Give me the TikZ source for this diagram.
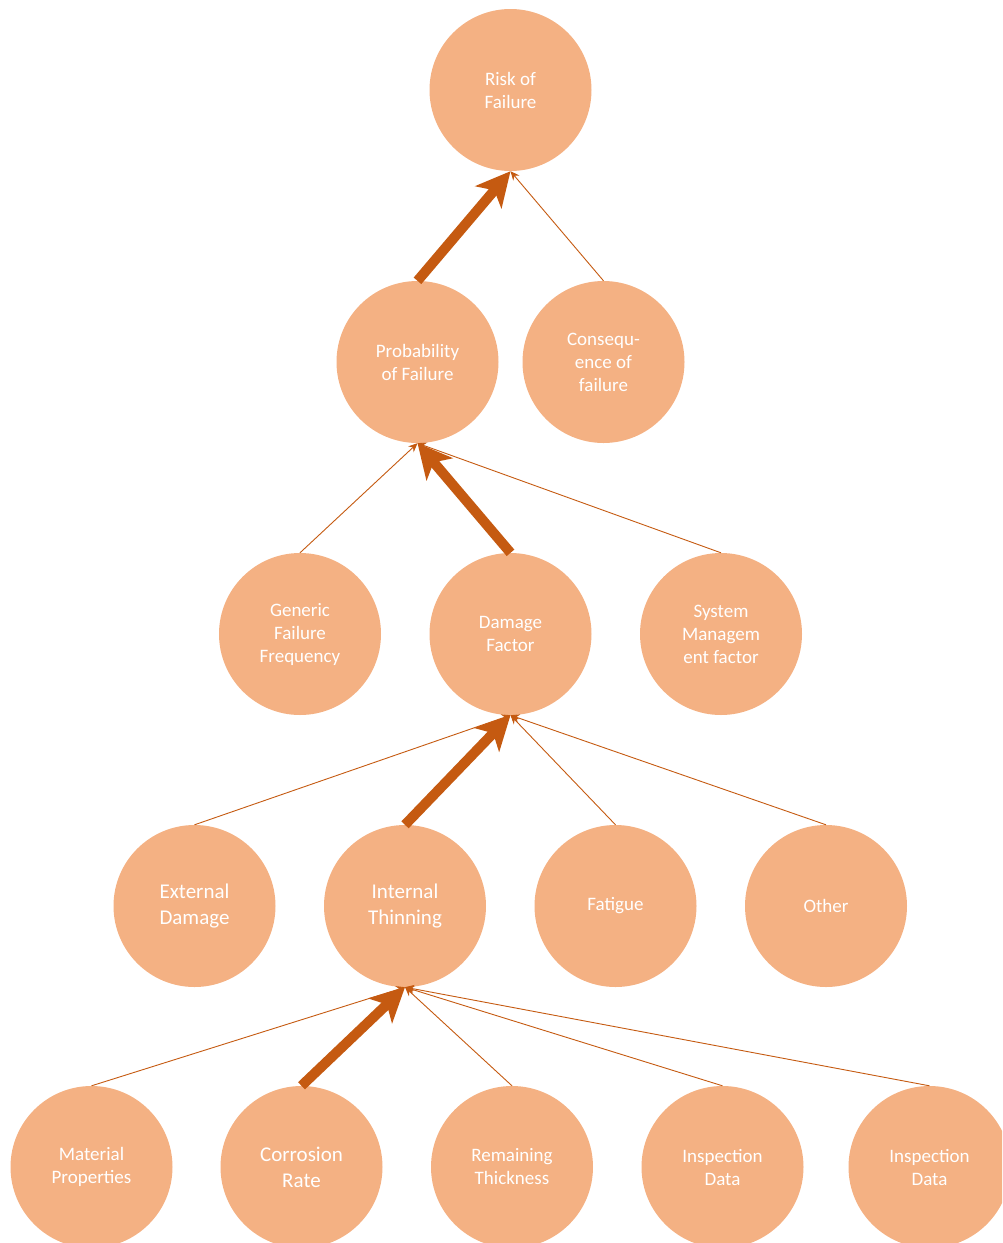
\documentclass[tikz,border=0pt]{standalone}
\usepackage{fontspec}
\setmainfont{Carlito}
\usetikzlibrary{arrows.meta}
\definecolor{fillc}{HTML}{F4B183}
\definecolor{linec}{HTML}{C55A11}
\begin{document}
\begin{tikzpicture}[x=1pt,y=-1pt,
 bub/.style={circle, fill=fillc, minimum size=162pt, inner sep=0pt, text=white, align=center, font=\fontsize{19}{23}\selectfont},
 bigbub/.style={bub, font=\fontsize{21}{26}\selectfont},
 thinlink/.style={draw=linec, line width=0.9pt, -{Stealth[length=9pt,width=8pt,inset=3pt]}},
 thicklink/.style={draw=linec, line width=10pt, -{Stealth[length=34pt,width=34pt,inset=9pt]}}]
\useasboundingbox (0,0) rectangle (1002,1243);
\clip (0,0) rectangle (1002,1243);
\node[bub] (risk) at (510.5,90) {Risk of\\Failure};
\node[bub] (pof) at (417.5,362) {Probability\\of Failure};
\node[bub] (cof) at (603.5,362) {Consequ-\\ence of\\failure};
\node[bub] (gff) at (300,634) {Generic\\Failure\\Frequency};
\node[bub] (df) at (510.5,634) {Damage\\Factor};
\node[bub] (smf) at (721,634) {System\\Managem\\ent factor};
\node[bigbub] (ext) at (194.5,906) {External\\Damage};
\node[bigbub] (it) at (405,906) {Internal\\Thinning};
\node[bub] (fat) at (615.5,906) {Fatigue};
\node[bub] (oth) at (826,906) {Other};
\node[bub] (mp) at (91.5,1167) {Material\\Properties};
\node[bigbub] (cr) at (301.5,1167) {Corrosion\\Rate};
\node[bub] (rt) at (512,1167) {Remaining\\Thickness};
\node[bub] (id1) at (722.5,1167) {Inspection\\Data};
\node[bub] (id2) at (929.5,1167) {Inspection\\Data};
% connectors
\draw[thicklink] (pof.north) -- (risk.south);
\draw[thinlink] (cof.north) -- (risk.south);
\draw[thinlink] (gff.north) -- (pof.south);
\draw[thinlink] (smf.north) -- (pof.south);
\draw[thicklink] (df.north) -- (pof.south);
\draw[thinlink] (ext.north) -- (df.south);
\draw[thinlink] (fat.north) -- (df.south);
\draw[thinlink] (oth.north) -- (df.south);
\draw[thicklink] (it.north) -- (df.south);
\draw[thinlink] (mp.north) -- (it.south);
\draw[thinlink] (rt.north) -- (it.south);
\draw[thinlink] (id1.north) -- (it.south);
\draw[thinlink] (id2.north) -- (it.south);
\draw[thicklink] (cr.north) -- (it.south);
\end{tikzpicture}
\end{document}
